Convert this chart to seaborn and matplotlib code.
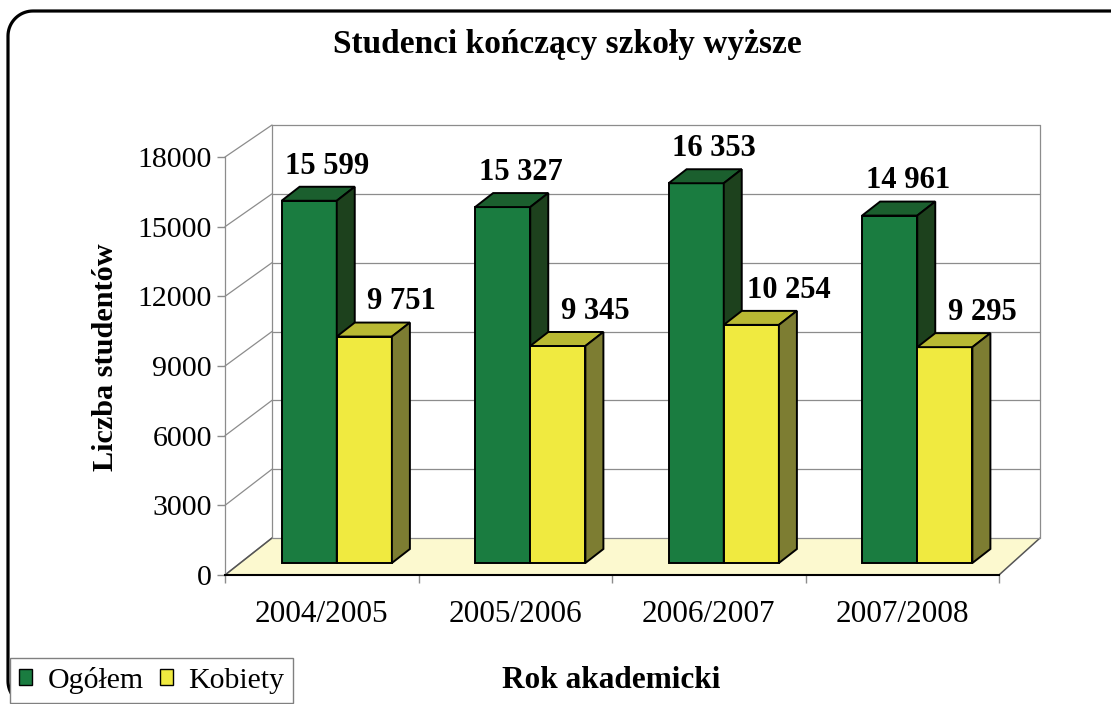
import matplotlib
matplotlib.use("Agg")
import numpy as np
import pandas as pd
import seaborn as sns
import matplotlib.pyplot as plt
from matplotlib.patches import Polygon, Patch
from matplotlib.lines import Line2D
from matplotlib.transforms import IdentityTransform, offset_copy

# ---------------- data ----------------
years = ["2004/2005", "2005/2006", "2006/2007", "2007/2008"]
ogolem = [15599, 15327, 16353, 14961]
kobiety = [9751, 9345, 10254, 9295]
series_names = ["Ogółem", "Kobiety"]
y_ticks = [0, 3000, 6000, 9000, 12000, 15000, 18000]

title = "Studenci kończący szkoły wyższe"
x_title = "Rok akademicki"
y_title = "Liczba studentów"

# ---------------- style ----------------
sns.set_theme(style="white")
SERIF = ["Liberation Serif", "DejaVu Serif"]
plt.rcParams["font.family"] = SERIF
plt.rcParams["text.color"] = "black"

front_colors = ["#1A7C40", "#F0EA40"]
top_colors = ["#1B5F2E", "#B9B933"]
side_colors = ["#1D411D", "#7D7D32"]
grid_c = "#8C8C8C"
FS = 21.5

W, H = 1111, 704
fig = plt.figure(figsize=(W / 100, H / 100), dpi=100)
fig.patch.set_facecolor("white")

T = IdentityTransform()

# ---------------- outer rounded frame: only top, left and bottom sides are inside the image ----------------
R = 25
left_x, top_y, bot_y = 8, 693, -2
a1 = np.linspace(np.pi / 2, np.pi, 20)
a2 = np.linspace(np.pi, 1.5 * np.pi, 20)
fx = np.concatenate([[W + 40], left_x + R + R * np.cos(a1), left_x + R + R * np.cos(a2), [W + 40]])
fy = np.concatenate([[top_y], top_y - R + R * np.sin(a1), bot_y + R + R * np.sin(a2), [bot_y]])
fig.add_artist(Line2D(fx, fy, transform=T, color="black", lw=2.3, solid_joinstyle="round",
                      clip_on=False, zorder=-1))


def px_axes(left, right, base, top, z):
    return fig.add_axes([left / W, (H - base) / H, (right - left) / W, (base - top) / H], zorder=z)


ax_back = px_axes(272, 1040, 538, 125, 0)
ax = px_axes(225, 999, 575, 157, 1)

# ---------------- bars (front plane) ----------------
df = pd.DataFrame({
    "year": years * 2,
    "series": [series_names[0]] * len(years) + [series_names[1]] * len(years),
    "value": ogolem + kobiety,
})
sns.barplot(data=df, x="year", y="value", hue="series", order=years, hue_order=series_names,
            palette=front_colors, saturation=1, width=0.57, edgecolor="black", linewidth=1.4,
            legend=False, ax=ax)

for a in (ax_back, ax):
    a.set_xlim(-0.5, 3.5)
    a.set_ylim(0, 18000)
    a.set_facecolor("none")

# ---------------- back wall, side wall, floor ----------------
ax_back.axis("off")
for t in y_ticks:
    ax_back.axhline(t, color=grid_c, lw=0.9, clip_on=False)
ax_back.axvline(-0.5, color=grid_c, lw=0.9, clip_on=False)
ax_back.axvline(3.5, color=grid_c, lw=0.9, clip_on=False)


def fpt(x, y):
    return ax.transData.transform((x, y))


def bpt(x, y):
    return ax_back.transData.transform((x, y))


floor = Polygon([fpt(-0.5, 0), fpt(3.5, 0), bpt(3.5, 0), bpt(-0.5, 0)], closed=True,
                transform=T, facecolor="#FCF9CF", edgecolor="none", clip_on=False, zorder=0.5)
ax_back.add_patch(floor)
for t in y_ticks:
    f, b = fpt(-0.5, t), bpt(-0.5, t)
    ax_back.add_line(Line2D([f[0], b[0]], [f[1], b[1]], transform=T, color=grid_c, lw=0.9,
                            clip_on=False, zorder=1))
for xe in (-0.5, 3.5):
    f, b = fpt(xe, 0), bpt(xe, 0)
    ax_back.add_line(Line2D([f[0], b[0]], [f[1], b[1]], transform=T, color="#555555", lw=1.1,
                            clip_on=False, zorder=1))

# ---------------- 3D bar faces + labels ----------------
DX, DY = 15, 12   # bar front plane offset (px)
TX, TY = 18, 14   # bar depth (px)
bar_tr = offset_copy(ax.transData, fig=fig, x=DX, y=DY, units="dots")
depth = np.array([TX, TY])
series_values = [ogolem, kobiety]
label_dx = [13, 27]   # points

for k, cont in enumerate(ax.containers):
    z = 2 + k
    for i, rect in enumerate(cont.patches):
        rect.set_transform(bar_tr)
        rect.set_zorder(z)
        rect.set_clip_on(False)
        x0, w, h = rect.get_x(), rect.get_width(), rect.get_height()
        ftl = bar_tr.transform((x0, h))
        ftr = bar_tr.transform((x0 + w, h))
        fbr = bar_tr.transform((x0 + w, 0))
        top = Polygon([ftl, ftr, ftr + depth, ftl + depth], closed=True, transform=T,
                      facecolor=top_colors[k], edgecolor="black", lw=1.4, zorder=z, clip_on=False)
        side = Polygon([fbr, ftr, ftr + depth, fbr + depth], closed=True, transform=T,
                       facecolor=side_colors[k], edgecolor="black", lw=1.4, zorder=z, clip_on=False)
        ax.add_patch(top)
        ax.add_patch(side)
        val = series_values[k][i]
        ax.annotate(f"{val:,}".replace(",", " "), xy=(x0 + w / 2, h), xycoords=bar_tr,
                    xytext=(label_dx[k], 19.5), textcoords="offset points", ha="center",
                    va="baseline", fontsize=22, fontweight="bold", color="black",
                    family=SERIF, zorder=10, annotation_clip=False)

# ---------------- axes styling ----------------
ax.set_xlabel("")
ax.set_ylabel("")
ax.grid(False)
ax.set_yticks(y_ticks)
ax.set_yticklabels([str(t) for t in y_ticks])
ax.set_xticks(range(len(years)))
ax.set_xticklabels(years)
ax.set_xticks(np.arange(-0.5, len(years), 1.0), minor=True)
ax.tick_params(axis="x", which="major", length=0, pad=18, labelsize=22.5, labelcolor="black")
ax.tick_params(axis="x", which="minor", length=5.8, width=1, color=grid_c, bottom=True, direction="out")
ax.tick_params(axis="y", which="major", length=5.8, width=1, color=grid_c, left=True, direction="out",
               pad=3.6, labelsize=FS, labelcolor="black")
ax.spines["top"].set_visible(False)
ax.spines["right"].set_visible(False)
ax.spines["left"].set_color(grid_c)
ax.spines["left"].set_linewidth(0.9)
ax.spines["bottom"].set_color("black")
ax.spines["bottom"].set_linewidth(1.5)

# ---------------- texts ----------------
fig.text(567 / W, 1 - 53 / H, title, ha="center", va="baseline", fontsize=24,
         fontweight="bold", family=SERIF)
fig.text(611 / W, 1 - 688 / H, x_title, ha="center", va="baseline", fontsize=22.5,
         fontweight="bold", family=SERIF)
fig.text(119 / W, 1 - 357 / H, y_title, rotation=90, ha="right", va="center", fontsize=21.8,
         fontweight="bold", family=SERIF)

# ---------------- legend ----------------
handles = [Patch(facecolor=c, edgecolor="black", lw=1) for c in front_colors]
leg = fig.legend(handles, series_names, loc="upper left", bbox_to_anchor=(10 / W, 1 - 658 / H),
                 ncol=2, frameon=True, fancybox=False, edgecolor="#808080",
                 prop={"family": SERIF, "size": FS},
                 handlelength=0.45, handleheight=0.45, handletextpad=0.5, columnspacing=0.55,
                 borderpad=0.3, borderaxespad=0)
leg.get_frame().set_linewidth(1)
leg.get_frame().set_alpha(1)

fig.savefig("out.png", dpi=100)
